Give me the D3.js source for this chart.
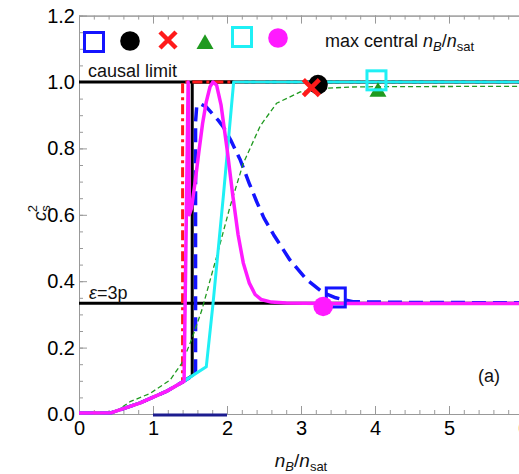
<!DOCTYPE html>
<html>
<head>
<meta charset="utf-8">
<script src="https://cdn.jsdelivr.net/npm/d3@7"></script>
<style>
  html, body { margin: 0; padding: 0; background: #fff; overflow: hidden; }
  svg { display: block; font-family: "Liberation Sans", Arial, Helvetica, sans-serif; }
</style>
</head>
<body>
<svg id="chart" width="519" height="474"></svg>
<script>
// ---- data -------------------------------------------------------------
const xMajorTicks = [0, 1, 2, 3, 4, 5, 6];
const yMajorTicks = [0, 0.2, 0.4, 0.6, 0.8, 1.0, 1.2];

// shared low-density part of every EOS (n_B/n_sat, c_s^2)
const lowDensity = [[0, 0.003], [0.44, 0.004], [0.82, 0.033], [1.18, 0.068], [1.42, 0.099]];

const eosBlue = [...lowDensity,
  [1.575, 0.121], [1.575, 0.88], [1.59, 0.925], [1.63, 0.935], [1.72, 0.925], [1.88, 0.885],
  [1.95, 0.865], [2.05, 0.825], [2.18, 0.765], [2.30, 0.695], [2.40, 0.64], [2.50, 0.59],
  [2.63, 0.54], [2.85, 0.464], [3.08, 0.404], [3.30, 0.365], [3.47, 0.35], [3.7, 0.338],
  [4.5, 0.336], [6, 0.335]];

const eosBlack = [...lowDensity, [1.53, 0.116], [1.53, 1.0], [6, 1.0]];

const eosRed = [[0, 0.003], [0.44, 0.004], [0.82, 0.033], [1.18, 0.068], [1.40, 0.096],
  [1.40, 1.0], [6, 1.0]];

const eosGreen = [[0.5, 0.008], [0.69, 0.037], [0.96, 0.062], [1.23, 0.102], [1.39, 0.153],
  [1.52, 0.223], [1.66, 0.313], [1.86, 0.474], [2.04, 0.624], [2.22, 0.755], [2.45, 0.868],
  [2.67, 0.936], [2.99, 0.97], [3.3, 0.981], [3.7, 0.985], [4.04, 0.986], [6, 0.987]];

const eosCyan = [...lowDensity, [1.72, 0.142], [1.81, 0.33], [1.95, 0.655], [2.09, 1.0], [6, 1.0]];

const eosMagenta = [...lowDensity,
  [1.475, 1.0], [1.49, 0.60], [1.52, 0.62], [1.57, 0.70], [1.62, 0.79], [1.67, 0.875],
  [1.72, 0.94], [1.77, 0.985], [1.81, 1.0], [1.86, 0.99], [1.92, 0.93], [2.0, 0.80],
  [2.08, 0.655], [2.15, 0.54], [2.22, 0.455], [2.30, 0.395], [2.38, 0.36], [2.46, 0.345],
  [2.6, 0.337], [2.8, 0.334], [3.3, 0.333], [6, 0.333]];

// maximum central density reached by each EOS (blue, black, red, green, cyan, magenta)
const maxCentralN  = [3.47, 3.23, 3.14, 4.04, 4.02, 3.30];
const maxCentralC2 = [0.351, 0.992, 0.983, 0.970, 1.005, 0.324];

const causalLimit = 1.0;
const conformalLimit = 1 / 3;
const saturationBand = [1, 2];

// ---- layout -----------------------------------------------------------
const svg = d3.select("#chart");
const x = d3.scaleLinear().domain([0, 6]).range([79, 523]);
const y = d3.scaleLinear().domain([0, 1.2]).range([414, 15.6]);

const frameColor = "#999";
const styles = {
  blue:    { color: "#1414ff", width: 3.5, dash: "14,7" },
  black:   { color: "#000",    width: 3,   dash: null },
  red:     { color: "#ff1a1a", width: 3,   dash: "10,4,3,4" },
  green:   { color: "#1f9a1f", width: 1.3, dash: "5,3" },
  cyan:    { color: "#1ff0f5", width: 3,   dash: null },
  magenta: { color: "#ff1aff", width: 3.5, dash: null }
};

// ---- axes / frame -----------------------------------------------------
const xMinor = d3.range(0, 6.001, 0.2);
const yMinor = d3.range(0, 1.2001, 0.05);

function styleAxis(g) {
  g.selectAll("path.domain").attr("stroke", frameColor).attr("stroke-width", 1);
  g.selectAll(".tick line").attr("stroke", frameColor).attr("stroke-width", 1);
  g.selectAll(".tick text").attr("fill", "#000").style("font-size", "20px");
}

svg.append("g").attr("transform", `translate(0,${y(0)})`)
  .call(d3.axisBottom(x).tickValues(xMinor).tickSizeInner(-4).tickSizeOuter(0).tickFormat(""))
  .call(styleAxis);
svg.append("g").attr("transform", `translate(0,${y(0)})`)
  .call(d3.axisBottom(x).tickValues(xMajorTicks).tickSizeInner(-8).tickSizeOuter(0)
    .tickPadding(7).tickFormat(d3.format("d")))
  .call(styleAxis);

svg.append("g").attr("transform", `translate(0,${y(1.2)})`)
  .call(d3.axisTop(x).tickValues(xMinor).tickSizeInner(-4).tickSizeOuter(0).tickFormat(""))
  .call(styleAxis);
svg.append("g").attr("transform", `translate(0,${y(1.2)})`)
  .call(d3.axisTop(x).tickValues(xMajorTicks).tickSizeInner(-8).tickSizeOuter(0).tickFormat(""))
  .call(styleAxis);

svg.append("g").attr("transform", `translate(${x(0)},0)`)
  .call(d3.axisLeft(y).tickValues(yMinor).tickSizeInner(-4).tickSizeOuter(0).tickFormat(""))
  .call(styleAxis);
svg.append("g").attr("transform", `translate(${x(0)},0)`)
  .call(d3.axisLeft(y).tickValues(yMajorTicks).tickSizeInner(-8).tickSizeOuter(0)
    .tickPadding(4).tickFormat(d3.format(".1f")))
  .call(styleAxis);

// ---- reference lines --------------------------------------------------
const plot = svg.append("g");
[causalLimit, conformalLimit].forEach(v => {
  plot.append("line")
    .attr("x1", x(0)).attr("x2", x(6))
    .attr("y1", y(v)).attr("y2", y(v))
    .attr("stroke", "#000").attr("stroke-width", 3);
});

// saturation density range on the axis
plot.append("line")
  .attr("x1", x(saturationBand[0])).attr("x2", x(saturationBand[1]))
  .attr("y1", y(0) + 1).attr("y2", y(0) + 1)
  .attr("stroke", "#1c1c8f").attr("stroke-width", 3);

// ---- EOS curves -------------------------------------------------------
const line = d3.line().x(d => x(d[0])).y(d => y(d[1]));
const curves = [
  [eosBlack, styles.black],
  [eosRed, styles.red],
  [eosBlue, styles.blue],
  [eosGreen, styles.green],
  [eosCyan, styles.cyan],
  [eosMagenta, styles.magenta]
];
curves.forEach(([data, st]) => {
  plot.append("path")
    .attr("d", line(data))
    .attr("fill", "none")
    .attr("stroke", st.color)
    .attr("stroke-width", st.width)
    .attr("stroke-linejoin", "round")
    .attr("stroke-dasharray", st.dash);
});

// ---- markers ----------------------------------------------------------
function marker(g, shape, color, cx, cy) {
  if (shape === "square") {
    g.append("rect").attr("x", cx - 9.5).attr("y", cy - 9.5)
      .attr("width", 19).attr("height", 19)
      .attr("fill", "none").attr("stroke", color).attr("stroke-width", 3);
  } else if (shape === "circle") {
    g.append("circle").attr("cx", cx).attr("cy", cy).attr("r", 9.8).attr("fill", color);
  } else if (shape === "cross") {
    const s = 8;
    g.append("path")
      .attr("d", `M${cx - s},${cy - s}L${cx + s},${cy + s}M${cx - s},${cy + s}L${cx + s},${cy - s}`)
      .attr("stroke", color).attr("stroke-width", 4.5).attr("fill", "none");
  } else if (shape === "triangle") {
    g.append("path")
      .attr("d", d3.symbol(d3.symbolTriangle, 125)())
      .attr("transform", `translate(${cx},${cy})`)
      .attr("fill", color);
  }
}

const markerShapes = ["square", "circle", "cross", "triangle", "square", "circle"];
const markerColors = [styles.blue.color, "#000", "#ff1a1a", styles.green.color, styles.cyan.color, styles.magenta.color];

const marks = svg.append("g");
maxCentralN.forEach((n, i) => marker(marks, markerShapes[i], markerColors[i], x(n), y(maxCentralC2[i])));

// legend row
const legendPos = [[94, 42], [130, 41], [168, 40], [205, 44], [242, 37], [278, 38]];
const legend = svg.append("g");
legendPos.forEach((p, i) => marker(legend, markerShapes[i], markerColors[i], p[0], p[1]));

// ---- text -------------------------------------------------------------
function densityRatio(t, size) {
  const sub = Math.round(size * 0.7);
  t.append("tspan").attr("font-style", "italic").text("n");
  t.append("tspan").attr("font-style", "italic").attr("font-size", sub).attr("dy", 4).text("B");
  t.append("tspan").attr("dy", -4).text("/");
  t.append("tspan").attr("font-style", "italic").text("n");
  t.append("tspan").attr("font-size", sub).attr("dy", 4).text("sat");
}

const title = svg.append("text").attr("x", 325).attr("y", 47).attr("font-size", 18).attr("fill", "#111");
title.append("tspan").text("max central ");
densityRatio(title, 18);

svg.append("text").attr("x", 88).attr("y", 77).attr("font-size", 18).attr("fill", "#111")
  .text("causal limit");

const eps = svg.append("text").attr("x", 89).attr("y", 299).attr("font-size", 18).attr("fill", "#111");
eps.append("tspan").attr("font-style", "italic").text("ε");
eps.append("tspan").text("=3p");

svg.append("text").attr("x", 478).attr("y", 382).attr("font-size", 18).attr("fill", "#111").text("(a)");

const xl = svg.append("text").attr("x", x(3)).attr("y", 467).attr("text-anchor", "middle")
  .attr("font-size", 19).attr("fill", "#111");
densityRatio(xl, 19);

const yl = svg.append("text").attr("transform", "translate(46,213) rotate(-90)")
  .attr("text-anchor", "middle").attr("font-size", 19).attr("fill", "#111");
yl.append("tspan").attr("font-style", "italic").text("c");
yl.append("tspan").attr("font-size", 13).attr("dy", 4).text("s");
yl.append("tspan").attr("font-size", 13).attr("dx", -7).attr("dy", -13).text("2");
</script>
</body>
</html>
